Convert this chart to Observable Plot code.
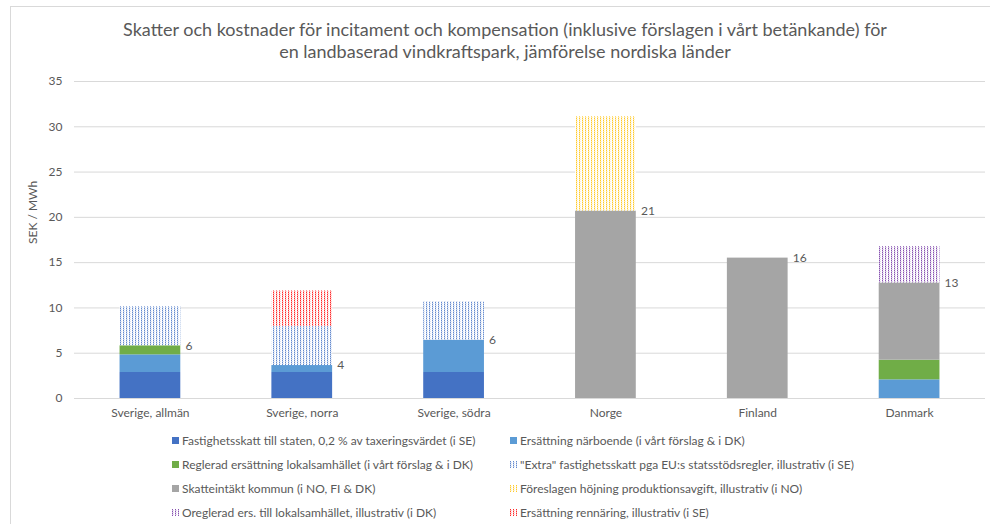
<!DOCTYPE html>
<html>
<head>
<meta charset="utf-8">
<script src="https://cdn.jsdelivr.net/npm/d3@7"></script>
<script src="https://cdn.jsdelivr.net/npm/@observablehq/plot@0.6"></script>
<style>
  html, body { margin: 0; padding: 0; background: #fff; }
  body { width: 990px; height: 524px; position: relative; overflow: hidden; font-family: Lato, "Open Sans", sans-serif; color: #595959; }
  #frame { position: absolute; left: 10px; top: 6px; width: 1000px; height: 540px; border: 1px solid #d9d9d9; box-sizing: border-box; }
  #title { position: absolute; left: 10px; width: 990px; top: 18px; text-align: center; font-size: 18px; line-height: 22px; color: #595959; }
  #chart { position: absolute; left: 0; top: 70px; }
  .leg { position: absolute; font-size: 12px; line-height: 14px; white-space: nowrap; color: #595959; }
  .leg svg { position: absolute; left: -10px; top: 3px; }
</style>
</head>
<body>
<div id="frame"></div>
<div id="title">Skatter och kostnader för incitament och kompensation (inklusive förslagen i vårt betänkande) för<br>en landbaserad vindkraftspark, jämförelse nordiska länder</div>
<div id="chart"></div>
<div id="legend"></div>
<script>
const categories = ["Sverige, allmän", "Sverige, norra", "Sverige, södra", "Norge", "Finland", "Danmark"];

const seriesNames = [
  "Fastighetsskatt till staten, 0,2 % av taxeringsvärdet (i SE)",
  "Ersättning närboende (i vårt förslag & i DK)",
  "Reglerad ersättning lokalsamhället (i vårt förslag & i DK)",
  "\"Extra\" fastighetsskatt pga EU:s statsstödsregler, illustrativ (i SE)",
  "Skatteintäkt kommun (i NO, FI & DK)",
  "Föreslagen höjning produktionsavgift, illustrativ (i NO)",
  "Oreglerad ers. till lokalsamhället, illustrativ (i DK)",
  "Ersättning rennäring, illustrativ (i SE)"
];

const fastighetsskatt = [2.87, 2.87, 2.87, 0, 0, 0];
const narboende       = [1.95, 0.77, 3.57, 0, 0, 2.06];
const reglerad        = [1.0, 0, 0, 0, 0, 2.17];
const extraSkatt      = [4.3, 4.3, 4.22, 0, 0, 0];
const skatteintakt    = [0, 0, 0, 20.7, 15.5, 8.53];
const hojning         = [0, 0, 0, 10.4, 0, 0];
const oreglerad       = [0, 0, 0, 0, 0, 4.0];
const rennaring       = [0, 3.93, 0, 0, 0, 0];

const labelValues = ["6", "4", "6", "21", "16", "13"];
const yTicks = [0, 5, 10, 15, 20, 25, 30, 35];

const seriesValues = [fastighetsskatt, narboende, reglerad, extraSkatt, skatteintakt, hojning, oreglerad, rennaring];
const seriesFills = ["#4472C4", "#5B9BD5", "#70AD47", "url(#pBlue)", "#A5A5A5", "url(#pYellow)", "url(#pPurple)", "url(#pRed)"];
const patterns = [["pBlue", "#4472C4"], ["pYellow", "#FFC000"], ["pPurple", "#7030A0"], ["pRed", "#FF0000"]];

const rows = [];
seriesNames.forEach((s, si) => categories.forEach((c, ci) => rows.push({category: c, series: s, value: seriesValues[si][ci]})));

const solidIdx = [0, 1, 2, 4];
const labels = categories.map((c, ci) => ({
  category: c,
  top: solidIdx.reduce((a, si) => a + seriesValues[si][ci], 0),
  text: labelValues[ci]
}));

const font = "Lato, 'Open Sans', sans-serif";
const chart = Plot.plot({
  width: 990,
  height: 360,
  marginLeft: 74,
  marginRight: 5,
  marginTop: 11,
  marginBottom: 32,
  style: {fontFamily: font, fontSize: "12px", color: "#595959", background: "transparent", overflow: "visible"},
  x: {domain: categories, paddingInner: 0.6, paddingOuter: 0.3, round: false, label: null, tickSize: 0, tickPadding: 10},
  y: {domain: [0, 35], ticks: yTicks, label: null, tickSize: 0, tickPadding: 12},
  color: {domain: seriesNames, range: seriesFills},
  marks: [
    Plot.gridY(yTicks, {stroke: "#d9d9d9", strokeOpacity: 1, strokeWidth: 1}),
    Plot.barY(rows, {x: "category", y: "value", fill: "series"}),
    Plot.text(labels, {x: "category", y: "top", text: "text", textAnchor: "start", dx: 35, fill: "#595959", fontSize: 12}),
    Plot.text(["SEK / MWh"], {frameAnchor: "left", rotate: -90, dx: -41, dy: 4, fill: "#595959", fontSize: 12})
  ]
});

const defs = d3.select(chart).insert("defs", ":first-child");
patterns.forEach(([id, col]) => {
  const p = defs.append("pattern").attr("id", id).attr("patternUnits", "userSpaceOnUse").attr("width", 3).attr("height", 2);
  p.append("rect").attr("width", 3).attr("height", 2).attr("fill", "#fff");
  p.append("rect").attr("x", 0).attr("y", 0).attr("width", 1).attr("height", 2).attr("fill", col).attr("fill-opacity", 0.35);
  p.append("rect").attr("x", 0).attr("y", 0).attr("width", 1).attr("height", 1).attr("fill", col).attr("fill-opacity", 0.75);
  p.append("rect").attr("x", 1).attr("y", 1).attr("width", 1).attr("height", 1).attr("fill", col).attr("fill-opacity", 0.2);
});
document.getElementById("chart").appendChild(chart);

const legend = document.getElementById("legend");
const colX = [182, 520];
const rowY = [434, 458, 482, 506];
seriesNames.forEach((s, i) => {
  const div = document.createElement("div");
  div.className = "leg";
  div.style.left = colX[i % 2] + "px";
  div.style.top = rowY[Math.floor(i / 2)] + "px";
  div.innerHTML = `<svg width="7" height="7"><rect width="7" height="7" fill="${seriesFills[i]}"></rect></svg>`;
  div.appendChild(document.createTextNode(s));
  legend.appendChild(div);
});
</script>
</body>
</html>
